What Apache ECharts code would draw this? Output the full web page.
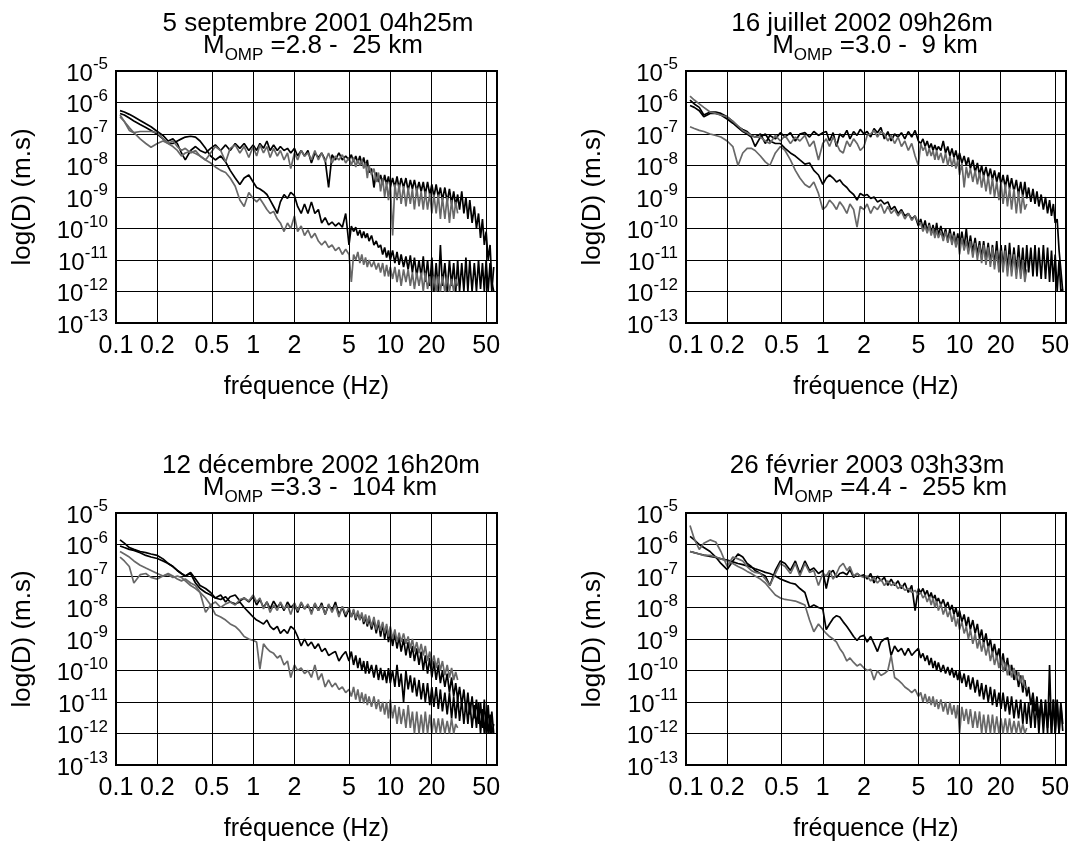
<!DOCTYPE html>
<html><head><meta charset="utf-8">
<script src="https://cdn.jsdelivr.net/npm/echarts@6/dist/echarts.min.js"></script>
<style>html,body{margin:0;padding:0;background:#fff}#c{width:1076px;height:844px}</style>
</head><body><div id="c"></div>
<script>
// frequency grid (Hz), in four bands
const fLow=[0.107,0.115,0.125,0.135,0.15,0.165,0.18,0.2,0.22,0.24,0.26,0.28,0.3,0.32,0.35,0.38,0.41,0.45,0.49,0.53,0.58,0.63,0.68,0.74,0.8,0.86,0.93,1.0];
const fMid=[1.06,1.12,1.19,1.26,1.33,1.41,1.5,1.58,1.68,1.78,1.88,2.0,2.11,2.24,2.37,2.51,2.66,2.82,2.99,3.16,3.35,3.55,3.76,3.98,4.22,4.47,4.73,5.0];
const fHigh=[5.2,5.4,5.6,5.8,6.0,6.2,6.4,6.6,6.8,7.0,7.3,7.6,7.9,8.2,8.5,8.8,9.1,9.4,9.7,10,10.4,10.8,11.2,11.6,12,12.5,13,13.5,14,14.5,15,15.6,16.2,16.8,17.4,18,18.7,19.4,20.1,20.8,21.6,22.4,23.2,24,25,26,27,28,29,30,31];
const fTop=[32,33.2,34.4,35.6,36.8,38,39.5,41,42.5,44,45.5,47,48.5,50,51.7,53.4,55,56.8];

const xTicks=[0.1,0.2,0.5,1,2,5,10,20,50];
const xGridLines=[0.2,0.5,1,2,5,10,20,50];
const yTicks=[1e-13,1e-12,1e-11,1e-10,1e-9,1e-8,1e-7,1e-6,1e-5];

const eventDates=['5 septembre 2001 04h25m','16 juillet 2002 09h26m','12 décembre 2002 16h20m','26 février 2003 03h33m'];
const magnitudes=['2.8','3.0','3.3','4.4'];
const distances=[' 25',' 9',' 104',' 255'];

// ---- panel 1 : 5 septembre 2001 ----
const p1BlackA=[
[5.5e-7,5e-7,4.2e-7,3.5e-7,2.7e-7,2.1e-7,1.7e-7,1.2e-7,9e-8,6e-8,7e-8,5e-8,2.5e-8,1.5e-8,3e-8,4e-8,3e-8,2.5e-8,3.5e-8,4.5e-8,3e-8,4.5e-8,3e-8,5e-8,3.5e-8,5e-8,3e-8,4.5e-8],
[3e-8,5e-8,3.5e-8,6e-8,3e-8,4.5e-8,3e-8,4e-8,3e-8,3.5e-8,2.5e-8,3.5e-8,2e-8,3e-8,2e-8,3e-8,1.2e-8,2.5e-8,1.8e-8,2.5e-8,1.5e-8,2e-9,2.2e-8,1.5e-8,2.5e-8,1.5e-8,2e-8,1.5e-8],
[2.2e-8,1.3e-8,2e-8,1.2e-8,2e-8,1.1e-8,1.8e-8,9e-9,1.5e-8,6e-9, 8e-9,2e-9,6e-9,3e-9,5e-9,2.5e-9,5e-9,2.5e-9,4.5e-9,2e-9, 4e-9,2e-9,4.5e-9,1.8e-9,4e-9,2e-9,4e-9,1.6e-9,3.5e-9,1.8e-9, 3.5e-9,1.5e-9,3e-9,1.5e-9,3e-9,1.2e-9,3e-9,1.2e-9,2.5e-9,1e-9, 2.5e-9,1e-9,2e-9,8e-10,2e-9,7e-10,1.8e-9,6e-10,1.5e-9,5e-10, 1.2e-9],
[4e-10,1.5e-9,3e-10,1e-9,2e-10,8e-10,1.5e-10,5e-10,1e-10, 3e-10,5e-11,2e-10,3e-11,8e-11,1e-11,3e-11,2e-12,1e-12]];
const p1BlackB=[
[4.5e-7,4e-7,3.2e-7,2.6e-7,2e-7,1.6e-7,1.3e-7,1e-7,7e-8,5e-8, 5e-8,6e-8,7e-8,8e-8,8.5e-8,8e-8,6e-8,3.5e-8,2e-8,1.5e-8, 2e-8,1.3e-8,7e-9,4e-9,2.5e-9,4e-9,5e-9,3e-9],
[2e-9,1.8e-9,1.5e-9,1.2e-9,8e-10,5e-10,3e-10,7e-10,1.2e-9,9e-10, 1.4e-9,1.1e-9,5e-10,3e-10,6e-10,3e-10,7e-10,3e-10,4e-10,1.5e-10, 2.2e-10,1.3e-10,1.6e-10,1.2e-10,1.5e-10,1.1e-10,3e-10,3e-11],
[1.2e-10,8e-11,1.1e-10,6e-11,9e-11,5e-11,8e-11,5e-11,7e-11,4e-11, 6e-11,3e-11,4e-11,2.5e-11,3e-11,1.5e-11,2.5e-11,1.2e-11,2e-11,1e-11, 2e-11,8e-12,1.8e-11,7e-12,1.5e-11,6e-12,1.3e-11,5e-12,1.4e-11,4e-12, 1.2e-11,3e-12,1e-11,3e-12,1.3e-11,2e-12,1e-11,1.5e-12,1.2e-11,1e-12, 8e-12,1e-12,3e-11,1.5e-12,8e-12,1e-12,1e-11,1.5e-12,8e-12,1e-12, 1e-11],
[1e-12,8e-12,1e-12,1.2e-11,1e-12,1e-11,1e-12,8e-12,1e-12, 1e-11,1.2e-12,8e-12,1e-12,1e-11,1e-12,8e-12,1e-12,6e-12]];
const p1GrayA=[
[4e-7,2.5e-7,1.3e-7,1.1e-7,1.2e-7,1.2e-7,1.2e-7,1.1e-7,7e-8,5e-8, 6e-8,4e-8,3e-8,3.5e-8,2.5e-8,3e-8,2e-8,1.5e-8,2.5e-8,4e-8, 3e-8,1.3e-8,3.5e-8,4.5e-8,2.5e-8,4e-8,1.8e-8,4e-8],
[2e-8,4.5e-8,2.5e-8,4e-8,1.8e-8,3.5e-8,2e-8,3e-8,1.5e-8,2.5e-8, 8e-9,2.5e-8,1.5e-8,3e-8,2e-8,2.5e-8,1.5e-8,3e-8,1.5e-8,2.5e-8, 1.3e-8,2.5e-8,1.2e-8,2e-8,1.5e-8,2.2e-8,1.2e-8,1.8e-8],
[1e-8,1.8e-8,9e-9,1.5e-8,1e-8,1.5e-8,8e-9,1.2e-8,4e-9,1e-8, 5e-9,8e-9,3e-9,6e-9,1.5e-9,4e-9,1e-9,3e-9,8e-10,3e-9, 6e-11,2.5e-9,8e-10,2.5e-9,6e-10,2.2e-9,5e-10,2e-9,6e-10,1.8e-9, 4e-10,2e-9,5e-10,1.5e-9,4e-10,1.5e-9,4e-10,1.3e-9,3e-10,1.2e-9, 3e-10,1.2e-9,2e-10,1e-9,2e-10,1e-9,1.5e-10,8e-10,2e-10,7e-10, 3e-10]];
const p1GrayB=[
[3.5e-7,2.5e-7,1.6e-7,1.1e-7,7e-8,5e-8,3.8e-8,5e-8,6e-8,5e-8, 4e-8,3e-8,2e-8,2.5e-8,2.8e-8,2.4e-8,2e-8,1.5e-8,1.2e-8,9e-9, 7e-9,6e-9,4e-9,2.2e-9,8e-10,5e-10,1.4e-9,9e-10],
[7e-10,9e-10,6e-10,4e-10,3e-10,3.5e-10,2e-10,1.5e-10,8e-11,1.5e-10, 1e-10,2.5e-10,8e-11,1.2e-10,6e-11,9e-11,5e-11,7e-11,4e-11,3e-11, 4e-11,2.5e-11,3e-11,2e-11,2.5e-11,1.5e-11,2.2e-11,1.5e-11],
[2e-12,1.5e-11,1e-11,1.8e-11,8e-12,1.5e-11,7e-12,1.2e-11,6e-12,1e-11, 6e-12,9e-12,5e-12,8e-12,4e-12,8e-12,3e-12,7e-12,3e-12,6e-12, 2.5e-12,6e-12,2e-12,5e-12,1.5e-12,5e-12,2e-12,5e-12,1.5e-12,4e-12, 1.2e-12,4e-12,1.5e-12,4e-12,1e-12,4e-12,1.2e-12,3e-12,1e-12,3e-12, 1e-12,3e-12,1e-12,3e-12,1e-12,3e-12,1e-12,2.5e-12,1e-12,2.5e-12, 1.5e-12]];

// ---- panel 2 : 16 juillet 2002 ----
const p2BlackA=[
[1.2e-6,9e-7,7e-7,4e-7,5e-7,5e-7,4.5e-7,3.5e-7,2.5e-7,1.7e-7, 1.4e-7,1.2e-7,9e-8,8e-8,1e-7,5e-8,9e-8,7e-8,1.1e-7,8e-8, 1.1e-7,6e-8,1e-7,1.1e-7,8e-8,1.2e-7,9e-8,1.1e-7],
[1.2e-7,6e-8,1.1e-7,4e-8,1e-7,8e-8,1.3e-7,7e-8,1.2e-7,9e-8, 1.4e-7,1e-7,1.2e-7,8e-8,1.5e-7,1.1e-7,1.6e-7,7e-8,1.2e-7,6e-8, 1e-7,8e-8,1.1e-7,7e-8,1.2e-7,8e-8,1.3e-7,6e-8],
[5e-8,7e-8,4e-8,6e-8,3.5e-8,5e-8,3e-8,4.5e-8,3e-8,4e-8, 3e-8,6e-8,2.5e-8,4e-8,2e-8,3.5e-8,1.8e-8,3e-8,1.5e-8,2.5e-8, 1.2e-8,2e-8,1e-8,1.8e-8,8e-9,1.5e-8,6e-9,1.2e-8,5e-9,1e-8, 4.5e-9,9e-9,4e-9,8e-9,3.5e-9,7e-9,3e-9,6e-9,2.5e-9,5e-9, 2e-9,5e-9,1.8e-9,4e-9,1.5e-9,3.5e-9,1.2e-9,3e-9,1e-9,3e-9, 9e-10],
[2e-9,7e-10,1.8e-9,6e-10,1.5e-9,5e-10,1.2e-9,4e-10,1e-9, 3e-10,8e-10,2.5e-10,6e-10,1.5e-10,2e-10,2e-11,5e-12,1e-12]];
const p2BlackB=[
[8e-7,7e-7,5.5e-7,3.5e-7,4.5e-7,4.5e-7,4e-7,3e-7,2.2e-7,1.6e-7, 1.2e-7,1e-7,8e-8,4e-8,8e-8,1e-7,6e-8,5e-8,5e-8,3.5e-8, 2.5e-8,2e-8,1.5e-8,1.1e-8,1.2e-8,7e-9,5e-9,2.5e-9],
[4e-9,5e-9,4e-9,3e-9,3.5e-9,2.5e-9,2e-9,1.5e-9,1.2e-9,8e-10, 1.3e-9,1.1e-9,1.2e-9,9e-10,1e-9,7e-10,8e-10,6e-10,7e-10,4e-10, 5e-10,3e-10,4e-10,2.5e-10,3e-10,2e-10,2.5e-10,1.2e-10],
[2e-10,1e-10,1.8e-10,8e-11,1.5e-10,7e-11,1.3e-10,6e-11,1.5e-10,6e-11, 1.2e-10,5e-11,1e-10,4e-11,1e-10,3.5e-11,8e-11,3e-11,7e-11,2.5e-11, 8e-11,2.5e-11,1e-10,2e-11,6e-11,1.8e-11,5e-11,1.5e-11,4e-11,1.2e-11, 4e-11,1e-11,3.5e-11,8e-12,3e-11,7e-12,4e-11,6e-12,3e-11,6e-12, 3e-11,5e-12,3.5e-11,5e-12,2.5e-11,4e-12,3e-11,4e-12,2.5e-11,3e-12, 3e-11],
[4e-12,2.5e-11,3e-12,3e-11,3e-12,2.5e-11,2.5e-12,3e-11,2.5e-12, 2.5e-11,2e-12,2e-11,2e-12,1.5e-11,1e-12,1e-11,1e-12,1.2e-12]];
const p2GrayA=[
[1.6e-6,1.2e-6,9e-7,7e-7,5e-7,4.5e-7,4e-7,3.5e-7,2.5e-7,1.8e-7, 1.3e-7,1.1e-7,9e-8,8e-8,8e-8,6e-8,5e-8,9e-8,6e-8,9e-8, 5e-8,8e-8,6e-8,9e-8,4e-8,6e-8,1.5e-8,5e-8],
[7e-8,4e-8,8e-8,5e-8,3e-8,2.5e-8,6e-8,4e-8,7e-8,5e-8, 3e-8,4e-8,9e-8,1e-7,1.3e-7,8e-8,1.2e-7,1e-7,6e-8,9e-8, 5e-8,8e-8,4e-8,6e-8,3e-8,5e-8,2e-8,1e-8],
[5e-8,3e-8,4e-8,2e-8,3.5e-8,2e-8,3e-8,1.5e-8,3e-8,1.5e-8, 2.5e-8,1.2e-8,2.5e-8,1e-8,2e-8,9e-9,1.8e-8,8e-9,1.5e-8,5e-9, 1.2e-8,2e-9,9e-9,4e-9,8e-9,3e-9,7e-9,2.5e-9,6e-9,2e-9, 5e-9,1.5e-9,4.5e-9,1.2e-9,4e-9,1e-9,3e-9,8e-10,3e-9,6e-10, 2.5e-9,5e-10,2e-9,4e-10,1.8e-9,3e-10,1.5e-9,3e-10,1.2e-9,4e-10, 6e-10]];
const p2GrayB=[
[1.7e-7,1.5e-7,1.3e-7,1.2e-7,1e-7,9e-8,8e-8,6e-8,4e-8,1e-8, 2.5e-8,3.5e-8,3.5e-8,3e-8,2e-8,1.3e-8,1e-8,2.5e-8,4e-8,3e-8, 1.5e-8,7e-9,4e-9,2.5e-9,2e-9,3e-9,1.3e-9,4e-10],
[5e-10,8e-10,6e-10,4e-10,7e-10,5e-10,3e-10,6e-10,4e-10,1.1e-10, 5e-10,4e-10,6e-10,3e-10,5e-10,4e-10,6e-10,3e-10,5e-10,3e-10, 4e-10,2.5e-10,3.5e-10,2e-10,3e-10,1.8e-10,2.5e-10,1.5e-10],
[1.5e-10,8e-11,1.2e-10,7e-11,1.3e-10,6e-11,1e-10,5e-11,9e-11,5e-11, 8e-11,4e-11,8e-11,3.5e-11,7e-11,3e-11,6e-11,2.5e-11,5e-11,1.5e-11, 5e-11,2e-11,4e-11,1.5e-11,4e-11,1.2e-11,3.5e-11,1e-11,3e-11,8e-12, 3e-11,7e-12,2.5e-11,6e-12,2.5e-11,5e-12,2e-11,4e-12,2e-11,4e-12, 2e-11,3e-12,1.5e-11,3e-12,1.5e-11,2.5e-12,1.2e-11,2.5e-12,1e-11,2e-12, 5e-12]];

// ---- panel 3 : 12 décembre 2002 ----
const p3BlackA=[
[1.4e-6,1.1e-6,8e-7,7e-7,6e-7,5.5e-7,5e-7,4.5e-7,3.5e-7,2.5e-7, 2e-7,1.5e-7,1.2e-7,1e-7,1.2e-7,6e-8,4e-8,3e-8,2.5e-8,2e-8, 2.5e-8,1.5e-8,2.2e-8,2.5e-8,1.6e-8,2e-8,1.5e-8,2.2e-8],
[1.2e-8,1.8e-8,1e-8,1.5e-8,9e-9,1.6e-8,1e-8,1.4e-8,8e-9,1.5e-8, 1e-8,1.3e-8,7e-9,1.4e-8,9e-9,1.2e-8,7e-9,1.3e-8,8e-9,1.4e-8, 6e-9,1.2e-8,8e-9,1.5e-8,6e-9,1e-8,5e-9,9e-9],
[5e-9,8e-9,4e-9,7e-9,4e-9,6e-9,3e-9,5e-9,2.5e-9,4.5e-9, 2e-9,4e-9,1.5e-9,3.5e-9,1.2e-9,3e-9,1e-9,2.5e-9,8e-10,2e-9, 6e-10,1.5e-9,5e-10,1.2e-9,4e-10,1e-9,3e-10,8e-10,2.5e-10,6e-10, 2e-10,5e-10,1.5e-10,4e-10,1e-10,3e-10,8e-11,2.5e-10,6e-11,2e-10, 5e-11,1.5e-10,4e-11,1e-10,3e-11,8e-11,2e-11,6e-11,1.5e-11,4e-11, 1.2e-11],
[3e-11,8e-12,2.5e-11,5e-12,2e-11,4e-12,1.5e-11,3e-12,1.2e-11, 2e-12,1e-11,1.5e-12,1.2e-11,1e-12,8e-12,1e-12,5e-12,1e-12]];
const p3BlackB=[
[9e-7,8e-7,7e-7,6.5e-7,5.5e-7,4.5e-7,4e-7,3.6e-7,3e-7,2.5e-7, 2e-7,1.5e-7,1.2e-7,1e-7,1.3e-7,8e-8,5e-8,4e-8,3e-8,2e-8, 1.8e-8,2.2e-8,1.5e-8,1.3e-8,1.5e-8,1e-8,7e-9,5e-9],
[4e-9,3.5e-9,3e-9,4e-9,2.5e-9,2e-9,2.5e-9,1.5e-9,2e-9,1.5e-9, 2.5e-9,2e-9,1.2e-9,6e-10,1e-9,6e-10,8e-10,5e-10,7e-10,4e-10, 5e-10,3e-10,3.5e-10,4e-10,2e-10,3e-10,4e-10,2e-10],
[4e-10,1.5e-10,3e-10,1.2e-10,2.5e-10,1e-10,2e-10,8e-11,2e-10,8e-11, 1.5e-10,6e-11,1.5e-10,5e-11,1.2e-10,5e-11,1e-10,4e-11,1.2e-10,4e-11, 1e-10,3e-11,1.5e-10,3e-11,8e-11,1e-11,1e-10,2.5e-11,7e-11,2e-11, 6e-11,1.5e-11,5e-11,1.2e-11,4e-11,1e-11,4e-11,8e-12,3e-11,7e-12, 3e-11,6e-12,2.5e-11,5e-12,2e-11,4e-12,2e-11,3e-12,1.5e-11,3e-12, 1.5e-11],
[2.5e-12,1.2e-11,2e-12,1e-11,2e-12,1e-11,1.5e-12,8e-12,1.5e-12, 1e-11,1e-12,6e-12,1e-12,5e-12,1e-12,4e-12,1e-12,2e-12]];
const p3GrayA=[
[6e-7,5e-7,4e-7,3e-7,2.2e-7,1.8e-7,1.5e-7,1.2e-7,1e-7,1.2e-7, 1e-7,8e-8,7e-8,8e-8,6e-8,5e-8,3e-8,2e-8,1.2e-8,1.5e-8, 1e-8,1.3e-8,1.5e-8,1.2e-8,1.8e-8,2e-8,1.6e-8,2.5e-8],
[1.5e-8,2e-8,9e-9,1.5e-8,7e-9,1.2e-8,8e-9,1.5e-8,9e-9,1.2e-8, 6e-9,1.4e-8,8e-9,1.5e-8,9e-9,1.3e-8,6e-9,1.4e-8,8e-9,1.2e-8, 6e-9,1.3e-8,7e-9,1.2e-8,5e-9,1.1e-8,6e-9,1e-8],
[5e-9,9e-9,4.5e-9,8e-9,4e-9,7e-9,3.5e-9,6e-9,3e-9,5.5e-9, 2.5e-9,5e-9,2e-9,4e-9,1.8e-9,3.5e-9,1.5e-9,3e-9,1.2e-9,2.5e-9, 1e-9,2e-9,8e-10,1.6e-9,8e-10,1.5e-9,7e-10,1.2e-9,5e-10,1e-9, 4e-10,8e-10,3.5e-10,7e-10,3e-10,6e-10,2e-10,4e-10,1.5e-10,3e-10, 1.2e-10,2.5e-10,1e-10,2e-10,7e-11,1.5e-10,6e-11,1.2e-10,5e-11,9e-11, 5e-11]];
const p3GrayB=[
[4e-7,3e-7,2e-7,6e-8,1.1e-7,1.2e-7,9e-8,8e-8,1e-7,1.1e-7, 9e-8,1e-7,9e-8,7e-8,5e-8,4e-8,3e-8,7e-9,1.2e-8,6e-9, 5e-9,4e-9,3e-9,2.5e-9,1.8e-9,1.2e-9,1e-9,9e-10],
[8e-10,1.1e-10,7e-10,5e-10,4e-10,3.5e-10,2.5e-10,3e-10,1.5e-10,2e-10, 6e-11,1.5e-10,1e-10,1.2e-10,8e-11,1e-10,6e-11,1.5e-10,5e-11,8e-11, 3e-11,5e-11,3e-11,4e-11,2.5e-11,3e-11,2e-11,2.5e-11],
[1.5e-11,3e-11,1.2e-11,2.5e-11,1e-11,2e-11,9e-12,1.8e-11,8e-12,1.5e-11, 7e-12,1.5e-11,6e-12,1.2e-11,5e-12,1e-11,4e-12,1e-11,3e-12,1.2e-11, 3e-12,8e-12,2e-12,7e-12,2e-12,6e-12,1.5e-12,8e-12,1.5e-12,5e-12, 1e-12,5e-12,1e-12,4e-12,1e-12,5e-12,1e-12,4e-12,1e-12,3e-12, 1e-12,3e-12,1e-12,3e-12,1e-12,2.5e-12,1e-12,3e-12,1e-12,2e-12, 1.5e-12]];

// ---- panel 4 : 26 février 2003 ----
const p4BlackA=[
[1.8e-6,1.4e-6,1e-6,8e-7,6e-7,4e-7,2.5e-7,1.6e-7,3e-7,5e-7, 4e-7,2.5e-7,2e-7,1.5e-7,1.2e-7,1e-7,5e-8,1.5e-7,3e-7,2.5e-7, 1.5e-7,3e-7,1.2e-7,3e-7,1.5e-7,1.8e-7,1.2e-7,1.5e-7],
[4e-8,1.2e-7,1.5e-7,9e-8,1.2e-7,1.3e-7,1.1e-7,1.6e-7,9e-8,1.2e-7, 1e-7,1.1e-7,8e-8,1.2e-7,6e-8,1e-7,7e-8,9e-8,5e-8,8e-8, 5e-8,7e-8,4e-8,6e-8,3e-8,5e-8,8e-9,4e-8],
[3e-8,4e-8,2.5e-8,3.5e-8,2e-8,3e-8,1.8e-8,2.5e-8,1.5e-8,2e-8, 1.2e-8,1.8e-8,1e-8,1.5e-8,8e-9,1.2e-8,6e-9,1e-8,5e-9,8e-9, 3.5e-9,6e-9,2.5e-9,5e-9,2e-9,4e-9,1.5e-9,3e-9,1e-9,2e-9, 7e-10,1.5e-9,5e-10,1e-9,3.5e-10,7e-10,2.5e-10,5e-10,1.5e-10,3.5e-10, 1e-10,2.5e-10,7e-11,1.5e-10,5e-11,1e-10,3e-11,7e-11,2e-11,5e-11, 1.5e-11],
[3e-11,8e-12,2e-11,5e-12,1.5e-11,3e-12,1.2e-11,2e-12,1.2e-11, 1.5e-12,1e-11,1e-12,1.2e-11,1e-12,1e-11,1e-12,8e-12,1.2e-12]];
const p4BlackB=[
[6e-7,5.5e-7,5e-7,4.6e-7,4.2e-7,3.9e-7,3.5e-7,3.2e-7,2.8e-7,2.5e-7, 2.3e-7,2.1e-7,1.9e-7,1.7e-7,1.5e-7,1.3e-7,1.2e-7,1e-7,8e-8,7e-8, 6e-8,5.5e-8,4e-8,3e-8,1e-8,1.2e-8,1e-8,9e-9],
[2e-9,3e-9,4.5e-9,5.5e-9,5e-9,3.5e-9,2.5e-9,1.8e-9,1.2e-9,9e-10, 1.2e-9,1.3e-9,8e-10,1.2e-9,7e-10,4e-10,8e-10,1e-9,1.1e-9,3e-10, 6e-10,4e-10,5e-10,3e-10,5e-10,3e-10,4e-10,5e-10],
[2.5e-10,3.5e-10,2e-10,3e-10,1.5e-10,2.5e-10,1.2e-10,2e-10,1e-10,1.8e-10, 9e-11,1.5e-10,8e-11,1.3e-10,7e-11,1.2e-10,6e-11,1e-10,5e-11,1e-10, 4e-11,8e-11,3e-11,7e-11,2.5e-11,6e-11,2e-11,5e-11,1.5e-11,4e-11, 1.2e-11,3.5e-11,1e-11,3e-11,8e-12,2.5e-11,7e-12,2e-11,6e-12,2e-11, 5e-12,1.5e-11,4e-12,1.5e-11,3e-12,1.2e-11,3e-12,1.2e-11,2e-12,1e-11, 2e-12],
[1e-11,1.5e-12,1.2e-11,1.5e-12,1e-11,1e-12,1.2e-11,1e-12,1e-11, 1e-12,1.5e-10,1e-12,1.2e-11,1e-12,1.2e-11,1e-12,1e-11,2e-12]];
const p4GrayA=[
[4e-6,1.5e-6,7e-7,1.1e-6,1.4e-6,1.2e-6,6e-7,2e-7,4e-7,3.5e-7, 3e-7,2e-7,1.5e-7,1.3e-7,1.2e-7,8e-8,5e-8,1.2e-7,2.5e-7,2e-7, 1.2e-7,2.5e-7,1e-7,2.5e-7,1.3e-7,1.5e-7,5e-8,1.2e-7],
[1e-7,1.5e-7,8e-8,1.2e-7,2e-7,2.5e-7,1.5e-7,2e-7,1e-7,1.2e-7, 1e-7,9e-8,1e-7,7e-8,9e-8,6e-8,8e-8,5e-8,7e-8,5e-8, 6e-8,4e-8,5e-8,3.5e-8,4e-8,3e-8,3.5e-8,2.5e-8],
[3e-8,2e-8,2.5e-8,1.5e-8,2.2e-8,1.2e-8,2e-8,1e-8,1.6e-8,8e-9, 1.3e-8,6e-9,1e-8,5e-9,8e-9,3.5e-9,6e-9,2.5e-9,4.5e-9,2e-9, 3.5e-9,1.5e-9,2.5e-9,1e-9,2e-9,7e-10,1.5e-9,5e-10,1e-9,4e-10, 8e-10,3e-10,6e-10,2e-10,4e-10,1.5e-10,3e-10,1.2e-10,2.5e-10,9e-11, 1.8e-10,7e-11,1.5e-10,6e-11,1.2e-10,5e-11,9e-11,4e-11,7e-11,3e-11, 3e-11]];
const p4GrayB=[
[6e-7,5.5e-7,5e-7,4.5e-7,4.5e-7,4e-7,3.5e-7,3e-7,2.5e-7,2e-7, 1.7e-7,1.4e-7,1.2e-7,1e-7,8e-8,6e-8,4e-8,2.5e-8,2e-8,1.8e-8, 1.7e-8,1.6e-8,1.4e-8,1.2e-8,4e-9,1.7e-9,3e-9,2e-9],
[1.5e-9,1.2e-9,1e-9,8e-10,5e-10,3.5e-10,2e-10,2.5e-10,1.8e-10,1.4e-10, 1.6e-10,1.2e-10,1e-10,1.1e-10,5e-11,1e-10,7e-11,8e-11,1e-10,3e-10, 6e-11,5e-11,4e-11,3e-11,2.5e-11,2e-11,2.5e-11,1.5e-11],
[2e-11,1e-11,1.8e-11,9e-12,1.5e-11,8e-12,1.5e-11,7e-12,1.2e-11,6e-12, 1.2e-11,5e-12,1e-11,4e-12,1e-11,4e-12,8e-12,3e-12,8e-12,1e-12, 7e-12,2.5e-12,6e-12,2e-12,6e-12,1.5e-12,5e-12,1.5e-12,5e-12,1e-12, 4e-12,1e-12,4e-12,1e-12,4e-12,1e-12,3.5e-12,1e-12,3e-12,1e-12, 3e-12,1e-12,3e-12,1e-12,2.5e-12,1e-12,2.5e-12,1e-12,2e-12,1e-12, 1.5e-12]];

const blackCurves=[[p1BlackA,p1BlackB],[p2BlackA,p2BlackB],[p3BlackA,p3BlackB],[p4BlackA,p4BlackB]];
const grayCurves=[[p1GrayA,p1GrayB],[p2GrayA,p2GrayB],[p3GrayA,p3GrayB],[p4GrayA,p4GrayB]];

// ---- layout ----
const FONT='"Liberation Sans", Arial, Helvetica, sans-serif';
const gridBoxes=[
  {left:116,top:71,width:381,height:252},
  {left:686,top:71,width:380,height:252},
  {left:116,top:513,width:381,height:252},
  {left:686,top:513,width:380,height:252}];
const title1X=[318,862,321,867];
const title2X=[313,875,320,890];
const titleTop=[11,11,453,453];

const freqGroups=[fLow,fMid,fHigh,fTop];
function toPoints(groups){
  const pts=[];
  groups.forEach((vals,g)=>{
    const fs=freqGroups[g];
    const n=Math.min(vals.length,fs.length);
    for(let i=0;i<n;i++) pts.push([fs[i],vals[i]]);
  });
  return pts;
}

const grids=[],xAxes=[],yAxes=[],series=[],titles=[];
gridBoxes.forEach((b,i)=>{
  grids.push({left:b.left,top:b.top,width:b.width,height:b.height,show:true,
    borderColor:'#000',borderWidth:2,backgroundColor:'transparent',containLabel:false,outerBoundsMode:'none'});
  xAxes.push({type:'log',logBase:10,gridIndex:i,min:0.1,max:60,
    axisLine:{show:false},axisTick:{show:false,customValues:xTicks},splitLine:{show:false},
    axisLabel:{customValues:xTicks,color:'#000',fontSize:25,fontFamily:FONT,margin:11,
      formatter:v=>String(Math.round(v*10)/10)},
    name:'fréquence (Hz)',nameLocation:'middle',nameGap:52,
    nameTextStyle:{color:'#000',fontSize:25,fontFamily:FONT}});
  yAxes.push({type:'log',logBase:10,gridIndex:i,min:1e-13,max:1e-5,interval:1,splitNumber:8,
    axisLine:{show:false},axisTick:{show:false,customValues:yTicks},
    splitLine:{show:true,lineStyle:{color:'#000',width:1,type:'solid'}},
    axisLabel:{customValues:yTicks,margin:8,
      formatter:v=>'{b|10}{s|'+Math.round(Math.log10(v))+'}',
      rich:{b:{fontSize:24,lineHeight:30,verticalAlign:'bottom',color:'#000',fontFamily:FONT},
            s:{fontSize:17,lineHeight:30,verticalAlign:'top',color:'#000',fontFamily:FONT}}},
    name:'log(D) (m.s)',nameLocation:'middle',nameGap:80,nameRotate:90,
    nameTextStyle:{color:'#000',fontSize:26,fontFamily:FONT}});
  // vertical grid lines
  series.push({type:'line',xAxisIndex:i,yAxisIndex:i,data:[[1,1e-9]],symbol:'none',
    lineStyle:{opacity:0},z:1,silent:true,animation:false,
    markLine:{silent:true,symbol:['none','none'],animation:false,label:{show:false},
      lineStyle:{color:'#000',width:1,type:'solid'},emphasis:{disabled:true},
      data:xGridLines.map(v=>({xAxis:v}))}});
  blackCurves[i].forEach(c=>series.push({type:'line',xAxisIndex:i,yAxisIndex:i,data:toPoints(c),
    symbol:'none',showSymbol:false,lineStyle:{color:'#000',width:1.7},z:3,silent:true,animation:false}));
  grayCurves[i].forEach(c=>series.push({type:'line',xAxisIndex:i,yAxisIndex:i,data:toPoints(c),
    symbol:'none',showSymbol:false,lineStyle:{color:'#686868',width:1.7},z:4,silent:true,animation:false}));
  titles.push({text:eventDates[i],left:title1X[i],top:titleTop[i],textAlign:'center',padding:0,
    textStyle:{fontSize:26,fontWeight:'normal',color:'#000',fontFamily:FONT,lineHeight:25}});
  titles.push({text:'{m|M}{sub|OMP}{m| ='+magnitudes[i]+' - '+distances[i]+' km}',
    left:title2X[i],top:titleTop[i]+22,textAlign:'center',padding:0,
    textStyle:{fontWeight:'normal',rich:{
      m:{fontSize:26,fontWeight:'normal',lineHeight:31,verticalAlign:'top',color:'#000',fontFamily:FONT},
      sub:{fontSize:17,fontWeight:'normal',lineHeight:31,verticalAlign:'bottom',color:'#000',fontFamily:FONT}}}});
});

const chart=echarts.init(document.getElementById('c'),null,{renderer:'canvas'});
chart.setOption({backgroundColor:'#fff',animation:false,textStyle:{fontFamily:FONT},
  title:titles,grid:grids,xAxis:xAxes,yAxis:yAxes,series:series});
</script></body></html>
